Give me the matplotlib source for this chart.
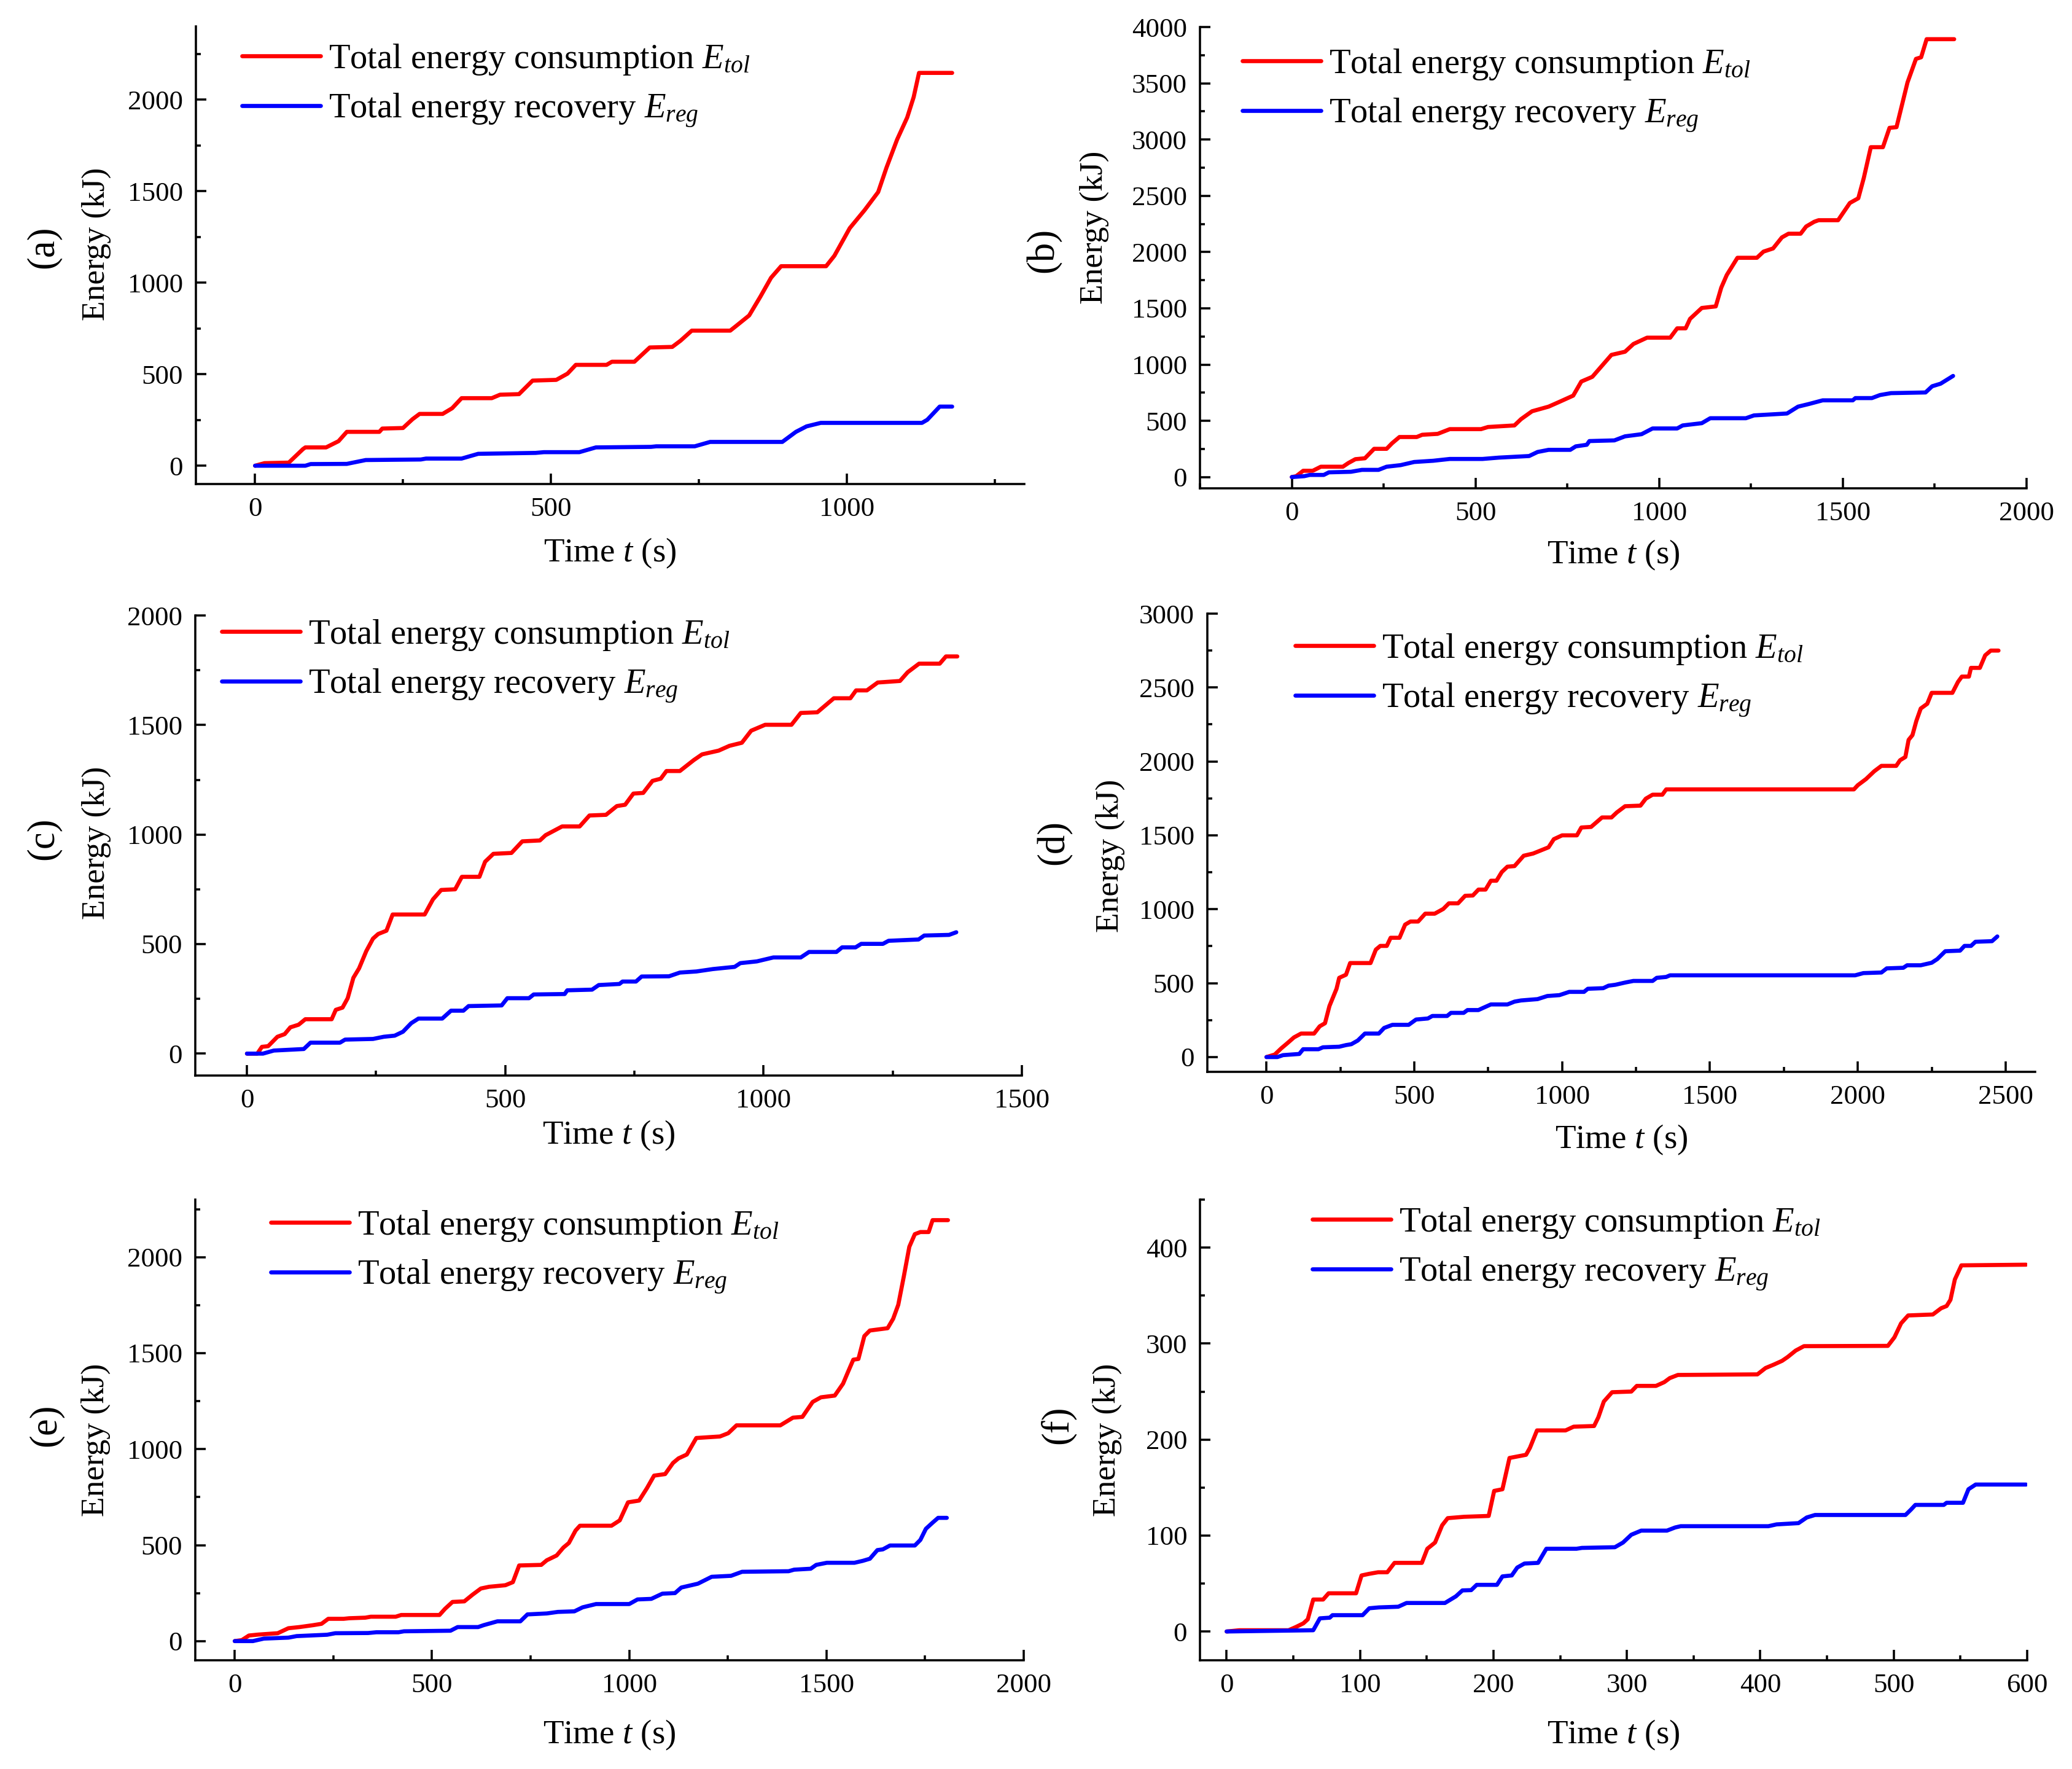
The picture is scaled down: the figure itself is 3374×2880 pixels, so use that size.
import matplotlib
matplotlib.use("Agg")
import matplotlib.pyplot as plt
from matplotlib.ticker import MultipleLocator

plt.rcParams['font.family'] = ['Liberation Serif', 'DejaVu Serif']
plt.rcParams['mathtext.fontset'] = 'custom'
plt.rcParams['mathtext.rm'] = 'Liberation Serif'
plt.rcParams['mathtext.it'] = 'Liberation Serif:italic'

# ---- data: time (s), energy (kJ) ----
# (a)
ta_tol = [0, 16, 57, 81, 85, 120, 141, 155, 210, 215, 250, 266, 278, 317, 333, 349, 400, 414, 446, 469,
          509, 528, 542, 594, 603, 641, 667, 705, 719, 738, 803, 812, 835, 854, 872, 889, 965, 979, 1005,
          1030, 1053, 1067, 1085, 1102, 1113, 1122, 1178]
Ea_tol = [0, 14, 17, 91, 100, 100, 134, 185, 185, 203, 206, 254, 283, 283, 314, 369, 369, 388, 391, 465,
          469, 503, 551, 551, 568, 568, 646, 649, 683, 738, 738, 761, 821, 924, 1027, 1090, 1090, 1147, 1298,
          1396, 1495, 1628, 1782, 1902, 2014, 2146, 2146]
ta_reg = [0, 85, 94, 155, 187, 280, 289, 349, 377, 474, 488, 548, 576, 669, 678, 743, 769, 891, 914, 932,
          956, 1127, 1136, 1157, 1178]
Ea_reg = [0, 0, 9, 10, 31, 34, 39, 39, 65, 70, 74, 74, 100, 103, 106, 106, 130, 130, 185, 215,
          234, 234, 251, 323, 323]

# (b)
tb_tol = [0, 12, 31, 57, 79, 139, 154, 173, 199, 224, 258, 273, 293, 340, 355, 397, 430, 515, 534, 606,
          624, 654, 699, 728, 766, 788, 818, 870, 907, 930, 967, 1030, 1049, 1072, 1084, 1116, 1154, 1169,
          1184, 1213, 1266, 1284, 1310, 1334, 1352, 1385, 1400, 1422, 1434, 1487, 1519, 1542, 1557, 1576,
          1609, 1627, 1646, 1676, 1699, 1713, 1728, 1803]
Eb_tol = [0, 8, 56, 56, 92, 92, 125, 159, 167, 251, 251, 301, 356, 356, 376, 384, 426, 426, 445, 459,
          515, 585, 626, 668, 724, 849, 891, 1086, 1114, 1183, 1239, 1239, 1322, 1322, 1406, 1503, 1517, 1684,
          1796, 1949, 1949, 2004, 2032, 2130, 2163, 2163, 2227, 2269, 2283, 2283, 2436, 2478, 2659, 2932,
          2932, 3104, 3110, 3508, 3717, 3731, 3892, 3892]
tb_reg = [0, 34, 49, 87, 101, 161, 191, 236, 258, 296, 333, 385, 430, 519, 564, 646, 669, 699, 758, 773,
          803, 810, 878, 907, 952, 982, 1049, 1064, 1116, 1139, 1236, 1258, 1348, 1378, 1407, 1445, 1527,
          1534, 1579, 1601, 1631, 1725, 1743, 1766, 1800]
Eb_reg = [0, 8, 19, 19, 42, 47, 64, 64, 92, 106, 134, 145, 161, 161, 173, 187, 223, 242, 242, 273,
          287, 320, 326, 362, 381, 432, 432, 459, 479, 523, 523, 548, 565, 626, 649, 682, 682,
          702, 702, 729, 746, 752, 807, 830, 899]

# (c)
tc_tol = [0, 20, 29, 41, 49, 59, 73, 84, 100, 113, 164, 172, 185, 195, 206, 217, 231, 244, 254, 270,
          282, 344, 360, 376, 403, 416, 450, 461, 477, 512, 533, 567, 578, 610, 644, 663, 695, 716, 732,
          748, 767, 785, 801, 812, 838, 865, 881, 913, 934, 958, 976, 1003, 1054, 1072, 1104, 1136, 1168,
          1179, 1200, 1221, 1264, 1279, 1301, 1341, 1353, 1375]
Ec_tol = [0, 0, 31, 34, 53, 77, 89, 120, 132, 157, 157, 200, 210, 253, 346, 389, 468, 525, 546, 561,
          635, 635, 704, 747, 750, 807, 807, 876, 912, 916, 969, 973, 997, 1037, 1037, 1087, 1090, 1130, 1136,
          1187, 1190, 1245, 1255, 1290, 1290, 1340, 1366, 1383, 1405, 1419, 1474, 1501, 1501, 1555, 1558, 1622,
          1622, 1658, 1658, 1694, 1701, 1741, 1780, 1780, 1813, 1813]
tc_reg = [0, 31, 52, 110, 123, 180, 190, 244, 265, 286, 302, 318, 332, 378, 395, 419, 429, 493, 504, 546,
          555, 615, 620, 668, 681, 721, 727, 753, 764, 817, 838, 870, 902, 944, 955, 987, 1019, 1072, 1088,
          1141, 1152, 1178, 1189, 1231, 1242, 1300, 1311, 1359, 1373]
Ec_reg = [0, 0, 14, 21, 50, 50, 64, 67, 77, 82, 100, 139, 160, 160, 196, 196, 217, 220, 253, 253,
          270, 272, 289, 292, 313, 318, 329, 329, 352, 353, 370, 375, 386, 396, 413, 421, 439, 439, 464,
          464, 485, 485, 501, 501, 515, 521, 539, 542, 554]

# (d)
td_tol = [0, 28, 50, 69, 93, 117, 161, 180, 198, 213, 237, 246, 269, 283, 352, 370, 385, 407, 420, 450,
          469, 487, 513, 537, 569, 598, 617, 648, 672, 698, 717, 741, 759, 778, 796, 815, 839, 870, 902,
          954, 972, 1000, 1050, 1065, 1098, 1135, 1167, 1185, 1213, 1265, 1283, 1306, 1339, 1352, 1987,
          2000, 2028, 2056, 2080, 2130, 2143, 2161, 2172, 2185, 2198, 2213, 2235, 2250, 2320, 2339, 2352,
          2376, 2383, 2413, 2431, 2450, 2476]
Ed_tol = [0, 17, 59, 91, 133, 159, 159, 208, 229, 345, 462, 536, 557, 636, 636, 727, 752, 752, 807, 807,
          896, 917, 917, 970, 970, 1002, 1040, 1040, 1091, 1093, 1133, 1133, 1193, 1193, 1252, 1288, 1292,
          1362, 1377, 1419, 1474, 1500, 1500, 1553, 1557, 1621, 1621, 1655, 1697, 1701, 1748, 1775, 1775,
          1811, 1811, 1839, 1881, 1934, 1970, 1970, 2008, 2030, 2146, 2178, 2273, 2358, 2390, 2464, 2464,
          2538, 2574, 2574, 2633, 2633, 2718, 2750, 2750]
td_reg = [0, 37, 56, 111, 124, 176, 191, 246, 269, 287, 309, 333, 380, 398, 426, 481, 506, 546, 561, 611,
          624, 667, 680, 717, 731, 759, 815, 839, 861, 917, 950, 991, 1024, 1074, 1087, 1139, 1157, 1180,
          1213, 1241, 1306, 1320, 1352, 1365, 1991, 2019, 2080, 2098, 2154, 2167, 2213, 2250, 2269, 2296,
          2346, 2361, 2383, 2398, 2454, 2472]
Ed_reg = [0, 0, 13, 21, 53, 53, 66, 70, 81, 87, 112, 159, 159, 197, 218, 218, 254, 261, 278, 278,
          299, 299, 318, 318, 331, 356, 356, 375, 383, 392, 413, 419, 441, 441, 462, 466, 483, 489,
          504, 515, 515, 536, 542, 553, 553, 568, 572, 600, 604, 621, 621, 638, 663, 716,
          720, 752, 752, 780, 784, 816]

# (e)
te_tol = [0, 18, 36, 60, 109, 136, 164, 199, 220, 237, 276, 290, 331, 345, 408, 422, 519, 533, 552, 582,
          603, 624, 645, 686, 705, 721, 777, 791, 816, 833, 847, 864, 875, 955, 976, 986, 997, 1025, 1045,
          1063, 1091, 1111, 1125, 1146, 1170, 1230, 1251, 1272, 1383, 1415, 1439, 1465, 1486, 1521, 1542,
          1556, 1568, 1581, 1596, 1610, 1655, 1669, 1682, 1696, 1710, 1724, 1738, 1759, 1769, 1808]
Ee_tol = [0, 5, 29, 34, 41, 67, 73, 83, 90, 116, 116, 119, 122, 127, 127, 136, 136, 168, 204, 207,
          242, 274, 283, 291, 307, 394, 397, 421, 446, 487, 511, 576, 601, 601, 629, 674, 723, 732, 797,
          862, 870, 928, 952, 972, 1058, 1066, 1083, 1124, 1124, 1164, 1168, 1246, 1270, 1279, 1341,
          1409, 1466, 1470, 1589, 1618, 1630, 1679, 1752, 1899, 2054, 2120, 2131, 2131, 2193, 2193]
te_reg = [0, 46, 74, 136, 157, 234, 255, 338, 359, 415, 429, 547, 565, 617, 631, 666, 724, 742, 791, 819,
          861, 882, 916, 1000, 1021, 1056, 1084, 1116, 1132, 1174, 1209, 1258, 1286, 1404, 1418, 1460, 1474,
          1501, 1571, 1592, 1610, 1629, 1643, 1661, 1724, 1738, 1752, 1769, 1783, 1805]
Ee_reg = [0, 0, 13, 18, 26, 33, 41, 42, 46, 46, 51, 54, 73, 73, 83, 103, 103, 139, 144, 152,
          155, 176, 193, 193, 217, 220, 247, 250, 279, 299, 335, 340, 361, 364, 372, 377, 397,
          408, 408, 418, 429, 474, 478, 498, 498, 527, 585, 617, 642, 642]

# (f)
tf_tol = [0, 9.5, 46.4, 51.8, 57.5, 60.8, 64.9, 72.3, 76.4, 97.0, 101.1, 106.9, 113.5, 120.4, 125.8, 146.3,
          150.4, 156.2, 161.5, 165.7, 177.9, 196.4, 200.5, 206.7, 212.0, 224.4, 227.3, 232.6, 254.0, 260.1,
          275.4, 278.6, 282.7, 288.9, 303.3, 307.4, 321.8, 328.0, 332.1, 338.2, 397.8, 403.9, 410.1, 416.3,
          420.4, 426.5, 432.7, 495.6, 500.5, 505.5, 510.8, 529.3, 535.5, 539.6, 542.5, 545.8, 550.7, 599.2]
Ef_tol = [0, 1.3, 1.3, 4.6, 8.5, 12.7, 33.3, 33.3, 39.8, 39.8, 58.4, 60.1, 61.7, 61.7, 71.5, 71.5,
          86.2, 92.7, 110.6, 118.1, 119.5, 120.4, 146.5, 148.2, 180.8, 184.1, 191.3, 209.5, 209.5, 213.4,
          214.1, 223.2, 239.6, 249.3, 250.0, 255.9, 255.9, 259.8, 264.0, 267.3, 267.9, 274.5, 278.1, 282.0,
          285.9, 292.7, 297.3, 297.6, 306.5, 321.1, 329.3, 330.3, 336.8, 339.1, 345.6, 366.8, 381.5, 382.2]
tf_reg = [0, 64.9, 69.9, 77.3, 79.3, 101.9, 106.9, 114.2, 128.6, 134.8, 163.6, 171.8, 176.7, 183.3, 187.4,
          202.6, 206.7, 213.7, 217.8, 223.2, 233.4, 239.6, 262.2, 266.3, 291.0, 297.1, 303.3, 310.7, 330.0,
          336.2, 340.3, 406.0, 412.2, 428.6, 434.8, 441.0, 508.8, 512.9, 516.2, 537.5, 539.6, 551.9, 556.0,
          561.4, 599.2]
Ef_reg = [0, 1.3, 13.7, 14.4, 17.0, 17.0, 24.2, 25.1, 25.8, 29.7, 29.7, 36.6, 42.8, 43.1, 48.6,
          48.6, 57.4, 58.4, 66.6, 70.8, 71.5, 86.2, 86.2, 87.1, 87.8, 92.7, 100.8, 105.1, 105.1,
          108.4, 109.7, 109.7, 111.6, 112.9, 118.8, 121.4, 121.4, 127.0, 131.9, 131.9, 134.1, 134.1, 148.2,
          153.1, 153.1]

panel_names = ['(a)', '(b)', '(c)', '(d)', '(e)', '(f)']
label_tol = 'Total energy consumption $E_{tol}$'
label_reg = 'Total energy recovery $E_{reg}$'

W, H = 3374, 2880
fig = plt.figure(figsize=(W / 300, H / 300), dpi=300)

# axes boxes in pixels: left, right, top, bottom
boxes = [(319, 1668, 43, 788), (1954, 3300, 44, 795),
         (318, 1664, 1002, 1751), (1966, 3314, 999, 1745),
         (318, 1667, 1953, 2703), (1954, 3301, 1953, 2703)]
xlims = [(-100, 1300), (-250, 2000), (-100, 1500), (-200, 2600), (-100, 2000), (-20, 600)]
ylims = [(-100, 2400), (-100, 4000), (-100, 2000), (-100, 3000), (-100, 2300), (-30, 450)]
major = [(500, 500), (500, 500), (500, 500), (500, 500), (500, 500), (100, 100)]
leg_xy = [(394, 91), (2023, 99), (361, 1028), (2109, 1051), (441, 1990), (2137, 1985)]
ylab_x = [-0.120, -0.128, -0.120, -0.117, -0.120, -0.1125]
ylab_y = [0.525, 0.565, 0.506, 0.472, 0.478, 0.478]
xlab_y = [-0.152, -0.145, -0.130, -0.148, -0.163, -0.163]
tag_xy = [(71, 402), (1700, 407), (71, 1365), (1717, 1371), (75, 2320), (1722, 2320)]

series = [(ta_tol, Ea_tol, ta_reg, Ea_reg), (tb_tol, Eb_tol, tb_reg, Eb_reg),
          (tc_tol, Ec_tol, tc_reg, Ec_reg), (td_tol, Ed_tol, td_reg, Ed_reg),
          (te_tol, Ee_tol, te_reg, Ee_reg), (tf_tol, Ef_tol, tf_reg, Ef_reg)]

for i, (t1, e1, t2, e2) in enumerate(series):
    L, R, T, B = boxes[i]
    ax = fig.add_axes([L / W, 1 - B / H, (R - L) / W, (B - T) / H])
    ax.plot(t1, e1, color='#ff0000', lw=1.6, label=label_tol, solid_capstyle='round')
    ax.plot(t2, e2, color='#0000ff', lw=1.6, label=label_reg, solid_capstyle='round')
    ax.set_xlim(*xlims[i])
    ax.set_ylim(*ylims[i])
    ax.xaxis.set_major_locator(MultipleLocator(major[i][0]))
    ax.xaxis.set_minor_locator(MultipleLocator(major[i][0] / 2))
    ax.yaxis.set_major_locator(MultipleLocator(major[i][1]))
    ax.yaxis.set_minor_locator(MultipleLocator(major[i][1] / 2))
    for s in ['top', 'right']:
        ax.spines[s].set_visible(False)
    for s in ['left', 'bottom']:
        ax.spines[s].set_linewidth(0.85)
    ax.tick_params(which='major', direction='in', length=4, width=0.85, labelsize=10.8, pad=5)
    ax.tick_params(which='minor', direction='in', length=2, width=0.85)

    ax.set_xlabel('Time $t$ (s)', fontsize=13.2, va='center')
    ax.xaxis.set_label_coords(0.5, xlab_y[i])
    ax.set_ylabel('Energy (kJ)', fontsize=12.8, va='center')
    ax.yaxis.set_label_coords(ylab_x[i], ylab_y[i])

    lx, ly = leg_xy[i]
    ax.legend(loc='upper left', bbox_to_anchor=(lx / W, 1 - (ly - 22) / H),
              bbox_transform=fig.transFigure, frameon=False, fontsize=13.6,
              borderpad=0, borderaxespad=0, handlelength=2.26, handletextpad=0.23,
              labelspacing=0.43)

    fig.text(tag_xy[i][0] / W, 1 - tag_xy[i][1] / H, panel_names[i], rotation=90,
             ha='center', va='center', fontsize=15)

fig.savefig('out.png', dpi=300)
